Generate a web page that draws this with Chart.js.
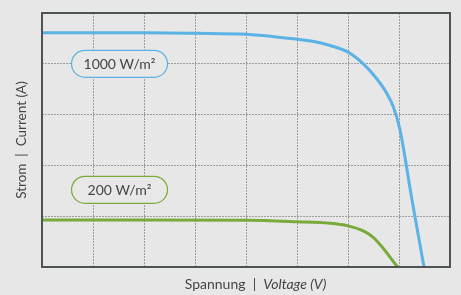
<!DOCTYPE html>
<html>
<head>
<meta charset="utf-8">
<script src="https://cdn.jsdelivr.net/npm/chart.js@4"></script>
<style>
html,body{margin:0;padding:0;background:#e7e7e7;}
#wrap{width:461px;height:295px;position:relative;}
</style>
</head>
<body>
<div id="wrap"><canvas id="c" width="461" height="295"></canvas></div>
<script>
// Data (voltage in grid divisions, current in grid divisions)
const voltage1000 = [0, 1, 2, 3, 4, 4.67, 5.33, 5.65, 6, 6.3, 6.56, 6.76, 6.89, 7.02, 7.25, 7.49];
const current1000 = [4.61, 4.61, 4.61, 4.6, 4.58, 4.52, 4.44, 4.36, 4.23, 4.0, 3.71, 3.42, 3.15, 2.7, 1.35, 0];
const voltage200 = [0, 2, 4, 5, 5.65, 6, 6.3, 6.5, 6.69, 6.82, 6.97];
const current200 = [0.925, 0.925, 0.92, 0.89, 0.86, 0.81, 0.71, 0.58, 0.37, 0.2, 0];
const seriesLabels = ['1000 W/m²', '200 W/m²'];
const xTitleA = 'Spannung  |  ';
const xTitleB = 'Voltage (V)';
const yTitle = 'Strom  |  Current (A)';

const BLUE = '#5ab3e4';
const GREEN = '#79aa3a';
const TEXT = '#454545';
const FONT = '"Lato", "Open Sans", sans-serif';

function pts(xs, ys){ return xs.map((x,i)=>({x:x, y:ys[i]})); }

const decor = {
  id: 'decor',
  afterDraw(chart){
    const ctx = chart.ctx, a = chart.chartArea;
    const xs = chart.scales.x, ys = chart.scales.y;
    ctx.save();
    // frame
    ctx.strokeStyle = '#4d5252';
    ctx.lineWidth = 2;
    ctx.strokeRect(a.left, a.top, a.right - a.left, a.bottom - a.top);
    // label pills
    const pill = (cx, cy, text, color) => {
      const w = 96, h = 27, r = 13.5;
      const x = cx - w/2, y = cy - h/2;
      ctx.beginPath();
      ctx.moveTo(x + r, y);
      ctx.lineTo(x + w - r, y);
      ctx.arc(x + w - r, y + r, r, -Math.PI/2, Math.PI/2);
      ctx.lineTo(x + r, y + h);
      ctx.arc(x + r, y + r, r, Math.PI/2, Math.PI*1.5);
      ctx.closePath();
      ctx.fillStyle = '#e8e8e8';
      ctx.fill();
      ctx.strokeStyle = color;
      ctx.lineWidth = 1.2;
      ctx.stroke();
      ctx.fillStyle = TEXT;
      ctx.font = '14px ' + FONT;
      ctx.textAlign = 'center';
      ctx.textBaseline = 'middle';
      ctx.fillText(text, cx, cy + 0.5);
    };
    pill(xs.getPixelForValue(1.52), ys.getPixelForValue(4.0), seriesLabels[0], BLUE);
    pill(xs.getPixelForValue(1.52), ys.getPixelForValue(1.52), seriesLabels[1], GREEN);
    // x title (mixed style)
    ctx.fillStyle = TEXT;
    ctx.textBaseline = 'middle';
    ctx.textAlign = 'left';
    const f1 = '14px ' + FONT, f2 = 'italic 14px ' + FONT;
    ctx.font = f1; const w1 = ctx.measureText(xTitleA).width;
    ctx.font = f2; const w2 = ctx.measureText(xTitleB).width;
    const cx = 255.5, ty = 284;
    let sx = cx - (w1 + w2)/2;
    ctx.font = f1; ctx.fillText(xTitleA, sx, ty);
    ctx.font = f2; ctx.fillText(xTitleB, sx + w1, ty);
    // y title
    ctx.translate(22, (a.top + a.bottom)/2);
    ctx.rotate(-Math.PI/2);
    ctx.font = '13.5px ' + FONT;
    ctx.textAlign = 'center';
    ctx.fillText(yTitle, 0, 0);
    ctx.restore();
  }
};

new Chart(document.getElementById('c'), {
  type: 'line',
  data: {
    datasets: [
      {label: seriesLabels[0], data: pts(voltage1000, current1000), borderColor: BLUE, borderWidth: 3, pointRadius: 0, cubicInterpolationMode: 'monotone', fill: false},
      {label: seriesLabels[1], data: pts(voltage200, current200), borderColor: GREEN, borderWidth: 3, pointRadius: 0, cubicInterpolationMode: 'monotone', fill: false}
    ]
  },
  options: {
    responsive: false,
    animation: false,
    layout: {padding: {left: 42, right: 11, top: 13, bottom: 28}},
    plugins: {legend: {display: false}, tooltip: {enabled: false}},
    scales: {
      x: {type: 'linear', min: 0, max: 8,
          ticks: {display: false, stepSize: 1},
          grid: {color: '#9d9d9d', lineWidth: 1, drawTicks: false},
          border: {display: false, dash: [2, 1]}},
      y: {type: 'linear', min: 0, max: 5,
          ticks: {display: false, stepSize: 1},
          grid: {color: '#9d9d9d', lineWidth: 1, drawTicks: false},
          border: {display: false, dash: [2, 1]}}
    }
  },
  plugins: [decor]
});
</script>
</body>
</html>
